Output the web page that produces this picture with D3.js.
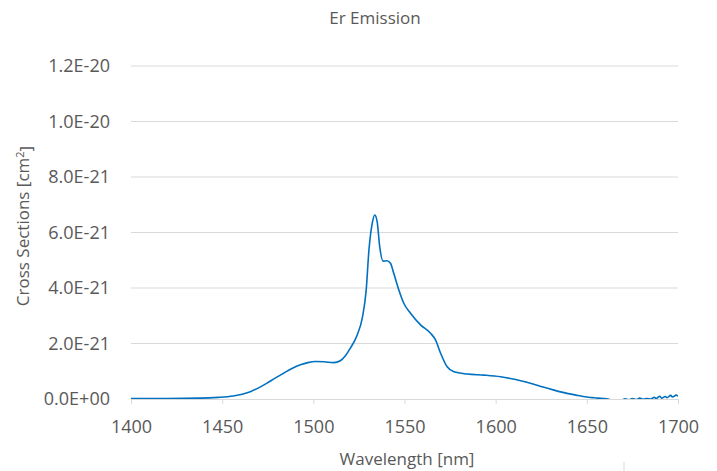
<!DOCTYPE html>
<html>
<head>
<meta charset="utf-8">
<script src="https://cdn.jsdelivr.net/npm/d3@7"></script>
<style>
  body { margin: 0; background: #fff; }
  svg text { font-family: "Open Sans", "Noto Sans", sans-serif; fill: #595959; }
</style>
</head>
<body>
<svg></svg>
<script>
// wavelength in nm, cross section in units of 1e-21 cm^2
const wavelength = [1400, 1420, 1438, 1448, 1456, 1461, 1465.4, 1470, 1474.6, 1479, 1483.7, 1488, 1492.9, 1497, 1501.1, 1506, 1511.2, 1514.8, 1517.5, 1520.3, 1524, 1527, 1529, 1530.5, 1532.3, 1533.7, 1535, 1536.4, 1538.3, 1540.4, 1542.3, 1544.1, 1546.9, 1549.6, 1553.3, 1558.8, 1564.3, 1567, 1569.8, 1573.4, 1577.1, 1584.4, 1593.6, 1602.7, 1608, 1613.7, 1620, 1626, 1632, 1638, 1644, 1650, 1653, 1656, 1659, 1661, 1663, 1666, 1669, 1671, 1673, 1675, 1677, 1679, 1681, 1683, 1685, 1687, 1688, 1690, 1691, 1693, 1694, 1696, 1697, 1699, 1700];
const crossSection = [0.02, 0.02, 0.03, 0.06, 0.11, 0.17, 0.26, 0.4, 0.57, 0.75, 0.93, 1.09, 1.23, 1.31, 1.35, 1.34, 1.31, 1.38, 1.55, 1.83, 2.3, 2.97, 3.93, 5.37, 6.33, 6.63, 6.39, 5.49, 4.97, 4.98, 4.89, 4.53, 3.93, 3.45, 3.09, 2.67, 2.37, 2.13, 1.65, 1.16, 0.98, 0.9, 0.86, 0.8, 0.74, 0.66, 0.55, 0.43, 0.32, 0.22, 0.14, 0.07, 0.05, 0.03, 0.02, 0.01, -0.03, -0.05, -0.04, 0.01, -0.03, 0.02, -0.02, 0.03, -0.01, 0.02, 0.0, 0.06, 0.02, 0.1, 0.03, 0.09, 0.05, 0.13, 0.07, 0.14, 0.1];
const xTicks = [1400, 1450, 1500, 1550, 1600, 1650, 1700];
const yTicks = [0, 2e-21, 4e-21, 6e-21, 8e-21, 1e-20, 1.2e-20];

const width = 717, height = 471;
const margin = { top: 66, right: 39, bottom: 72, left: 131 };
const innerW = width - margin.left - margin.right;
const innerH = height - margin.top - margin.bottom;

const svg = d3.select("svg").attr("width", width).attr("height", height);

const x = d3.scaleLinear().domain([1400, 1700]).range([0, innerW]);
const y = d3.scaleLinear().domain([0, 1.2e-20]).range([innerH, 0]);

function sciFormat(v) {
  if (v === 0) return "0.0E+00";
  const exp = Math.floor(Math.log10(Math.abs(v)) + 1e-9);
  const mant = v / Math.pow(10, exp);
  const sign = exp < 0 ? "-" : "+";
  return mant.toFixed(1) + "E" + sign + String(Math.abs(exp)).padStart(2, "0");
}

const g = svg.append("g").attr("transform", `translate(${margin.left},${margin.top})`);

// gridlines
g.selectAll("line.grid")
  .data(yTicks.filter(d => d > 0))
  .enter().append("line")
  .attr("class", "grid")
  .attr("x1", 0).attr("x2", innerW)
  .attr("y1", d => y(d)).attr("y2", d => y(d))
  .attr("stroke", "#d9d9d9").attr("stroke-width", 1);

// y labels
g.selectAll("text.ylab")
  .data(yTicks)
  .enter().append("text")
  .attr("class", "ylab")
  .attr("x", -21)
  .attr("y", d => y(d))
  .attr("dy", "0.36em")
  .attr("text-anchor", "end")
  .style("font-size", "18px")
  .text(sciFormat);

// x axis
const xAxis = g.append("g")
  .attr("transform", `translate(0,${innerH})`)
  .call(d3.axisBottom(x).tickValues(xTicks).tickFormat(d3.format("d")).tickSize(5).tickPadding(16));
xAxis.select(".domain").attr("stroke", "#d9d9d9");
xAxis.selectAll(".tick line").attr("stroke", "#d9d9d9");
xAxis.selectAll(".tick text")
  .style("font-size", "18px")
  .attr("fill", "#595959")
  .style("font-family", "'Open Sans', sans-serif");

// clip to plot area
svg.append("clipPath").attr("id", "clip")
  .append("rect").attr("x", 0).attr("y", 0).attr("width", innerW).attr("height", innerH);

const pts = wavelength.map((w, i) => [w, crossSection[i] * 1e-21]);
const line = d3.line()
  .x(d => x(d[0]))
  .y(d => y(d[1]))
  .curve(d3.curveMonotoneX);

g.append("path")
  .datum(pts)
  .attr("clip-path", "url(#clip)")
  .attr("fill", "none")
  .attr("stroke", "#0070c0")
  .attr("stroke-width", 1.6)
  .attr("d", line);

// title
svg.append("text")
  .attr("x", 375).attr("y", 24)
  .attr("text-anchor", "middle")
  .style("font-size", "17px")
  .text("Er Emission");

// axis titles
svg.append("text")
  .attr("x", 407).attr("y", 465)
  .attr("text-anchor", "middle")
  .style("font-size", "17px")
  .text("Wavelength [nm]");

const yt = svg.append("text")
  .attr("transform", "translate(29,226) rotate(-90)")
  .attr("text-anchor", "middle")
  .style("font-size", "17px");
yt.append("tspan").text("Cross Sections [cm");
yt.append("tspan").attr("dy", "-0.45em").style("font-size", "11px").text("2");
yt.append("tspan").attr("dy", "0.45em").text("]");

// small stray mark near the bottom
svg.append("line")
  .attr("x1", 624).attr("x2", 624).attr("y1", 462).attr("y2", 471)
  .attr("stroke", "#d9d9d9");
</script>
</body>
</html>
